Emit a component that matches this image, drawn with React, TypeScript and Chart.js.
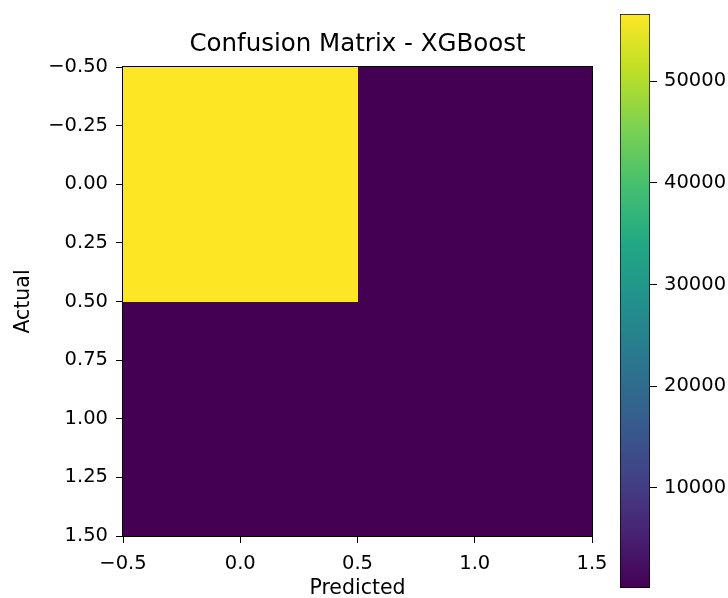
import React, { useEffect, useRef } from "react";
import { Chart, registerables } from "chart.js";
Chart.register(...registerables);

const titleText = "Confusion Matrix - XGBoost";
const xTitleText = "Predicted";
const yTitleText = "Actual";
const predictedClasses = [0, 1];
const actualClasses = [0, 1];
const matrixValues = [
  [56640, 110],
  [125, 118],
];
const xTickValues = [-0.5, 0, 0.5, 1, 1.5];
const yTickValues = [-0.5, -0.25, 0, 0.25, 0.5, 0.75, 1, 1.25, 1.5];
const colorbarTickValues = [10000, 20000, 30000, 40000, 50000];
const viridisStops = [
  "#440154", "#482475", "#414487", "#355f8d", "#2a788e", "#21918c",
  "#22a884", "#44bf70", "#7ad151", "#bddf26", "#fde725",
];

const FONT = "'DejaVu Sans', sans-serif";
const flat = matrixValues.flat();
const vmin = Math.min(...flat);
const vmax = Math.max(...flat);

function hexToRgb(h: string) {
  return [parseInt(h.slice(1, 3), 16), parseInt(h.slice(3, 5), 16), parseInt(h.slice(5, 7), 16)];
}
function viridis(t: number) {
  const tt = Math.max(0, Math.min(1, t)) * (viridisStops.length - 1);
  const i = Math.min(Math.floor(tt), viridisStops.length - 2);
  const f = tt - i;
  const a = hexToRgb(viridisStops[i]);
  const b = hexToRgb(viridisStops[i + 1]);
  const c = a.map((v, k) => Math.round(v + (b[k] - v) * f));
  return `rgb(${c[0]},${c[1]},${c[2]})`;
}
function fmt(v: number, d: number) {
  return (v < 0 ? "\u2212" : "") + Math.abs(v).toFixed(d);
}

const heatmapPlugin = {
  id: "heatmap",
  beforeDatasetsDraw(chart: any) {
    const { ctx, scales } = chart;
    const xs = scales.x;
    const ys = scales.y;
    const data = chart.data.datasets[0].data as any[];
    ctx.save();
    data.forEach((d) => {
      const x0 = Math.round(xs.getPixelForValue(d.x - 0.5));
      const x1 = Math.round(xs.getPixelForValue(d.x + 0.5));
      const y0 = Math.round(ys.getPixelForValue(d.y - 0.5));
      const y1 = Math.round(ys.getPixelForValue(d.y + 0.5));
      ctx.fillStyle = viridis((d.v - vmin) / (vmax - vmin));
      ctx.fillRect(Math.min(x0, x1), Math.min(y0, y1), Math.abs(x1 - x0), Math.abs(y1 - y0));
    });
    ctx.restore();
  },
  afterDatasetsDraw(chart: any) {
    const { ctx, chartArea: a } = chart;
    ctx.save();
    ctx.strokeStyle = "#000";
    ctx.lineWidth = 1;
    ctx.strokeRect(Math.round(a.left) - 0.5, Math.round(a.top) - 0.5, Math.round(a.right - a.left) + 1, Math.round(a.bottom - a.top) + 1);
    ctx.restore();
  },
};

export default function App() {
  const mainRef = useRef<HTMLCanvasElement>(null);
  const cbRef = useRef<HTMLCanvasElement>(null);

  useEffect(() => {
    const cells: any[] = [];
    actualClasses.forEach((a, i) =>
      predictedClasses.forEach((p, j) => cells.push({ x: p, y: a, v: matrixValues[i][j] }))
    );
    const tickFont = { family: FONT, size: 19.5 };
    const main = new Chart(mainRef.current!, {
      type: "scatter",
      data: { datasets: [{ data: cells, pointRadius: 0 }] },
      plugins: [heatmapPlugin],
      options: {
        animation: false,
        responsive: false,
        layout: { padding: { left: 0, right: 136, top: 30, bottom: 0 } },
        plugins: {
          legend: { display: false },
          tooltip: { enabled: false },
          title: {
            display: true,
            fullSize: false,
            text: titleText,
            color: "#000",
            font: { family: FONT, size: 24.5, weight: "normal", lineHeight: 1.2 },
            padding: { top: 0, bottom: 7.6 },
          },
        },
        scales: {
          x: {
            type: "linear",
            position: "bottom",
            min: -0.5,
            max: 1.5,
            afterBuildTicks: (s: any) => { s.ticks = xTickValues.map((v) => ({ value: v })); },
            afterFit: (s: any) => { s.height = 62; },
            ticks: { callback: (v: any) => fmt(Number(v), 1), color: "#000", font: tickFont, padding: 9, maxRotation: 0, autoSkip: false },
            grid: { drawOnChartArea: false, drawTicks: true, tickLength: 7, color: "#000", lineWidth: 1 },
            border: { display: false },
            title: { display: true, text: xTitleText, color: "#000", font: { family: FONT, size: 20.5, lineHeight: 0.93 }, padding: { top: 0, bottom: 0 } },
          },
          y: {
            type: "linear",
            position: "left",
            min: -0.5,
            max: 1.5,
            reverse: true,
            afterBuildTicks: (s: any) => { s.ticks = yTickValues.map((v) => ({ value: v })); },
            afterFit: (s: any) => { s.width = 123; },
            ticks: { callback: (v: any) => fmt(Number(v), 2), color: "#000", font: tickFont, padding: 8, autoSkip: false },
            grid: { drawOnChartArea: false, drawTicks: true, tickLength: 7, color: "#000", lineWidth: 1 },
            border: { display: false },
            title: { display: true, text: yTitleText, color: "#000", font: { family: FONT, size: 20.5, lineHeight: 1.2 }, padding: { top: 11, bottom: 0 } },
          },
        },
      } as any,
    });

    const cb = new Chart(cbRef.current!, {
      type: "bar",
      data: {
        labels: [""],
        datasets: [
          {
            data: [[vmin, vmax]] as any,
            backgroundColor: (c: any) => {
              const ch = c.chart;
              const ys = ch.scales && ch.scales.y;
              if (!ys || !ch.chartArea) return viridisStops[0];
              const p0 = ys.getPixelForValue(vmin);
              const p1 = ys.getPixelForValue(vmax);
              if (!isFinite(p0) || !isFinite(p1) || p0 === p1) return viridisStops[0];
              const g = ch.ctx.createLinearGradient(0, p0, 0, p1);
              viridisStops.forEach((col, k) => g.addColorStop(k / (viridisStops.length - 1), col));
              return g;
            },
            borderColor: "#000",
            borderWidth: 1,
            borderSkipped: false,
            barPercentage: 1,
            categoryPercentage: 1,
          },
        ],
      },
      options: {
        animation: false,
        responsive: false,
        layout: { autoPadding: false, padding: { left: 20, right: 0, top: 14, bottom: 10 } },
        plugins: { legend: { display: false }, tooltip: { enabled: false }, title: { display: false } },
        scales: {
          x: { display: false },
          y: {
            position: "right",
            min: vmin,
            max: vmax,
            beginAtZero: false,
            afterBuildTicks: (s: any) => { s.ticks = colorbarTickValues.map((v) => ({ value: v })); },
            afterFit: (s: any) => { s.width = 78; s.paddingTop = 0; s.paddingBottom = 0; },
            ticks: { callback: (v: any) => String(v), color: "#000", font: tickFont, padding: 7, autoSkip: false },
            grid: { drawOnChartArea: false, drawTicks: true, tickLength: 7, color: "#000", lineWidth: 1 },
            border: { display: false },
          },
        },
      } as any,
    });

    return () => {
      main.destroy();
      cb.destroy();
    };
  }, []);

  return (
    <div style={{ position: "fixed", left: 0, top: 0, width: 728, height: 598, background: "#fff", overflow: "hidden" }}>
      <canvas ref={mainRef} width={728} height={598} style={{ position: "absolute", left: 0, top: 0 }} />
      <canvas ref={cbRef} width={128} height={598} style={{ position: "absolute", left: 600, top: 0 }} />
    </div>
  );
}
